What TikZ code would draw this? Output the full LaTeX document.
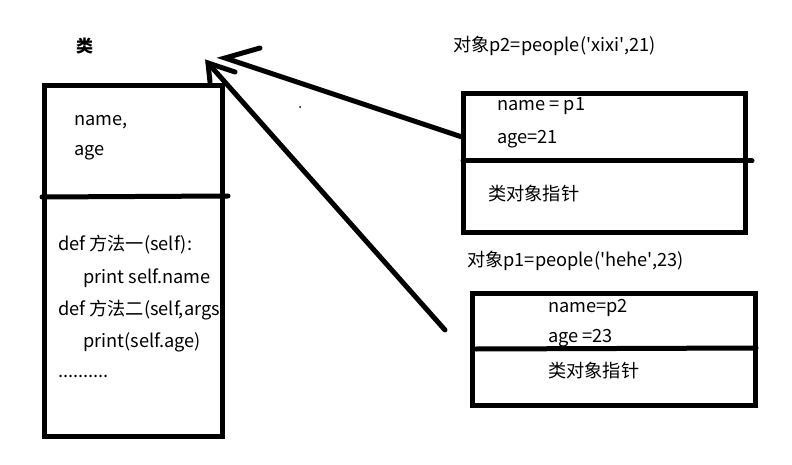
\documentclass[tikz,border=0pt]{standalone}
\usepackage{fontspec}
\setmainfont{Noto Sans CJK SC}
\newcommand{\sq}{\textquotesingle}
\begin{document}
\begin{tikzpicture}[x=1pt,y=-1pt,
  heavy/.style={line width=5pt,line cap=round},
  boxshape/.style={draw,line width=5pt,inner sep=0pt},
  lbl/.style={anchor=west,inner sep=0pt,font=\fontsize{18.2}{21}\selectfont}]
\useasboundingbox (0,0) rectangle (792,465);
% class box
\node[boxshape,minimum width=178pt,minimum height=350pt] (cls) at (133,261) {};
\draw[heavy] (42,197) -- (228,196);
\node[lbl,font=\fontsize{17}{20}\selectfont\bfseries] (clst) at (76,46) {类};
\node[lbl] (c1) at (74,122) {name,};
\node[lbl] (c2) at (74,153) {age};
\node[lbl] (c3) at (58,245) {def 方法一(self):};
\node[lbl] (c4) at (83,278) {print self.name};
\node[lbl] (c5) at (58,310) {def 方法二(self,args)};
\node[lbl] (c6) at (83,342) {print(self.age)};
\node[lbl] (c7) at (58,376) {..........};
% object p2
\node[lbl] (o2t) at (453,46) {对象p2=people(\sq xixi\sq,21)};
\node[boxshape,minimum width=282pt,minimum height=138pt] (ob2) at (604,163) {};
\draw[heavy] (463,161) -- (752,161);
\node[lbl] (o2a) at (497,106) {name = p1};
\node[lbl] (o2b) at (497,139) {age=21};
\node[lbl] (o2c) at (488,194) {类对象指针};
% object p1
\node[lbl] (o1t) at (467,261) {对象p1=people(\sq hehe\sq,23)};
\node[boxshape,minimum width=283pt,minimum height=112pt] (ob1) at (613.5,349) {};
\draw[heavy] (476,349) -- (756,348);
\node[lbl] (o1a) at (548,308) {name=p2};
\node[lbl] (o1b) at (548,338) {age =23};
\node[lbl] (o1c) at (548,371) {类对象指针};
% arrows
\coordinate (t1) at (208,63);
\coordinate (s1) at (445,330);
\coordinate (h1a) at (210,82);
\coordinate (h1b) at (235,72);
\draw[heavy] (s1) -- (t1);
\draw[heavy] (h1a) -- (t1) -- (h1b);
\coordinate (t2) at (225,58);
\coordinate (s2) at (462,137);
\coordinate (h2a) at (260,48);
\draw[heavy] (s2) -- (t2) -- (h2a);
\fill (300,107) circle (1pt);
\end{tikzpicture}
\end{document}
